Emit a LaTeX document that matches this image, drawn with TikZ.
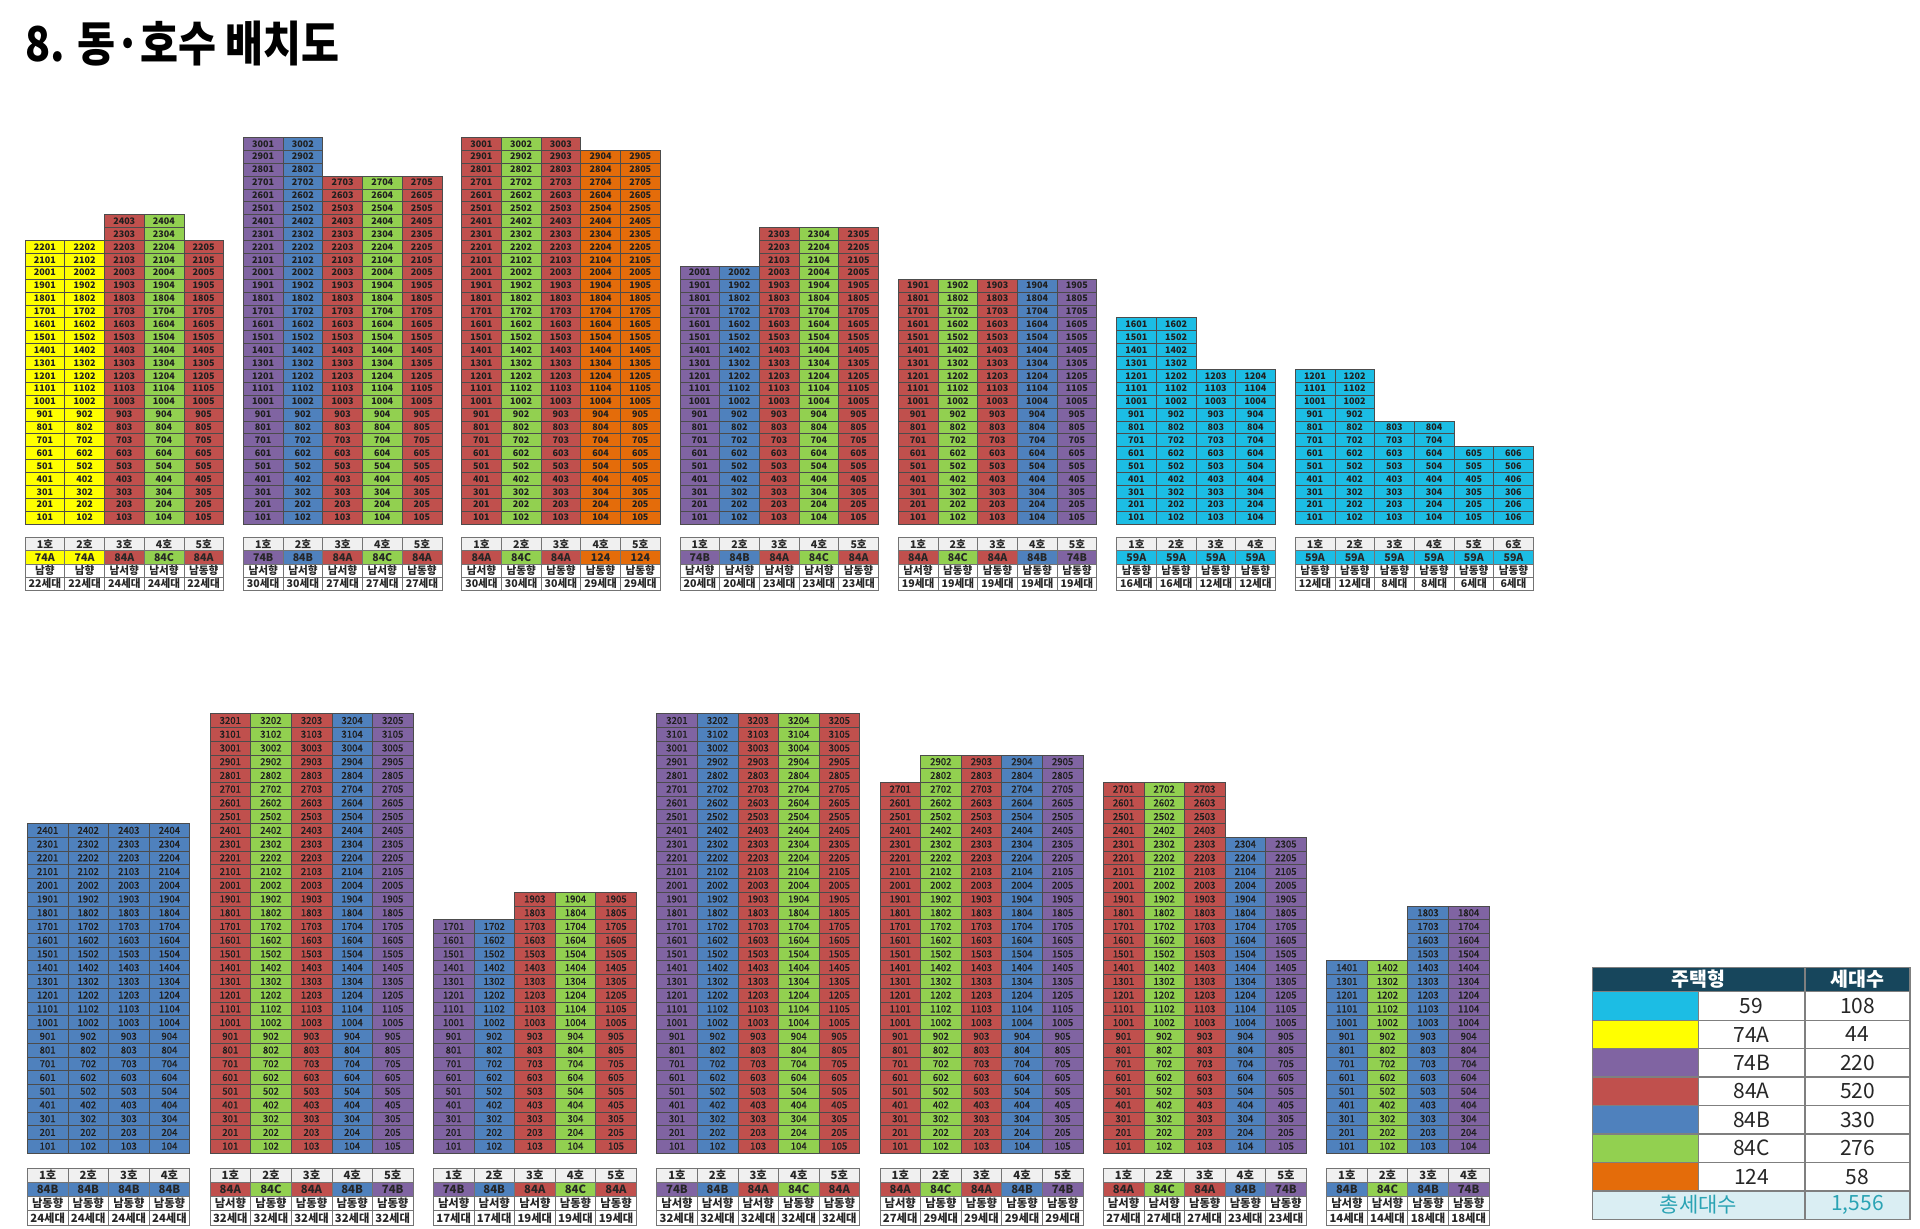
\documentclass[tikz,border=0pt]{standalone}
\usepackage{fontspec}
\usepackage{graphicx}
\setmainfont{Noto Sans CJK KR}
\newfontfamily\krmed[FakeBold=1.2]{Noto Sans CJK KR}
\definecolor{c59A}{HTML}{1CBDE4}
\definecolor{c74A}{HTML}{FFFF00}
\definecolor{c74B}{HTML}{8064A2}
\definecolor{c84A}{HTML}{C0504D}
\definecolor{c84B}{HTML}{4F81BD}
\definecolor{c84C}{HTML}{92D050}
\definecolor{c124}{HTML}{E46C0A}
\definecolor{hdr}{HTML}{17465C}
\definecolor{totbg}{HTML}{DAEEF3}
\definecolor{totfg}{HTML}{2AA3B4}
\definecolor{grid}{HTML}{7F7F7F}
\tikzset{
  unit/.style={draw=black!70, line width=0.6pt, inner sep=0pt, anchor=south west, text=black!88},
  tcell/.style={draw=black!55, line width=0.7pt, inner sep=0pt, anchor=north west, text=black!85},
  legtxt/.style={inner sep=0pt, font=\fontsize{21}{21}\selectfont, text=black!85},
}
% #1 name, #2 x, #3 col width, #4 base y, #5 row h, #6 table top, #7 table row h, #8 cell font, #9 columns
\newcommand\bldg[9]{%
  \foreach \ty/\nf/\ori [count=\cc] in {#9} {%
    \pgfmathsetmacro\xl{#2+(\cc-1)*#3}%
    \foreach \ff in {1,...,\nf} {%
      \pgfmathsetmacro\yb{#4-(\ff-1)*#5}%
      \node[unit, fill=c\ty, minimum width=#3pt, minimum height=#5pt, font=#8] (#1-\ff-\cc) at (\xl,\yb) {\ff0\cc};
    }%
    \node[tcell, fill=black!6, minimum width=#3pt, minimum height=#7pt] (#1-a\cc) at (\xl,#6) {\cc{}호};
    \node[tcell, fill=c\ty, minimum width=#3pt, minimum height=#7pt] (#1-b\cc) at (\xl,#6+#7) {\ty};
    \node[tcell, fill=white, minimum width=#3pt, minimum height=#7pt] (#1-c\cc) at (\xl,#6+2*#7) {\ori};
    \node[tcell, fill=white, minimum width=#3pt, minimum height=#7pt] (#1-d\cc) at (\xl,#6+3*#7) {\nf{}세대};
  }%
}
\begin{document}
\begin{tikzpicture}[x=1pt,y=-1pt]
\useasboundingbox (0,0) rectangle (1920,1229);
\fill[white] (0,0) rectangle (1920,1229);
\node[anchor=base west, inner sep=0pt, font=\bfseries\fontsize{48}{48}\selectfont] (title) at (25,61.5) {\scalebox{0.86}[1]{8. 동·호수 배치도}};

% ---------- top row ----------
\begin{scope}[every node/.append style={font=\bfseries\fontsize{10.6}{10.6}\selectfont}]
\def\cf{\bfseries\fontsize{9}{9}\selectfont}
\bldg{T1}{24.7}{39.7}{524.3}{12.89}{537}{13.3}{\cf}{74A/22/남향,74A/22/남향,84A/24/남서향,84C/24/남서향,84A/22/남동향}
\bldg{T2}{243}{39.7}{524.3}{12.89}{537}{13.3}{\cf}{74B/30/남서향,84B/30/남서향,84A/27/남서향,84C/27/남서향,84A/27/남동향}
\bldg{T3}{461.3}{39.7}{524.3}{12.89}{537}{13.3}{\cf}{84A/30/남서향,84C/30/남동향,84A/30/남동향,124/29/남동향,124/29/남동향}
\bldg{T4}{679.6}{39.7}{524.3}{12.89}{537}{13.3}{\cf}{74B/20/남서향,84B/20/남서향,84A/23/남서향,84C/23/남서향,84A/23/남동향}
\bldg{T5}{897.9}{39.7}{524.3}{12.89}{537}{13.3}{\cf}{84A/19/남서향,84C/19/남동향,84A/19/남동향,84B/19/남동향,74B/19/남동향}
\bldg{T6}{1116.2}{39.7}{524.3}{12.89}{537}{13.3}{\cf}{59A/16/남동향,59A/16/남동향,59A/12/남동향,59A/12/남동향}
\bldg{T7}{1294.8}{39.7}{524.3}{12.89}{537}{13.3}{\cf}{59A/12/남동향,59A/12/남동향,59A/8/남동향,59A/8/남동향,59A/6/남동향,59A/6/남동향}
\end{scope}

% ---------- bottom row ----------
\begin{scope}[every node/.append style={font=\bfseries\fontsize{11.3}{11.3}\selectfont}]
\def\cf{\krmed\fontsize{9.6}{9.6}\selectfont}
\bldg{B1}{27}{40.6}{1153.3}{13.73}{1167.5}{14.3}{\cf}{84B/24/남동향,84B/24/남동향,84B/24/남동향,84B/24/남동향}
\bldg{B2}{209.7}{40.6}{1153.3}{13.73}{1167.5}{14.3}{\cf}{84A/32/남서향,84C/32/남동향,84A/32/남동향,84B/32/남동향,74B/32/남동향}
\bldg{B3}{433}{40.6}{1153.3}{13.73}{1167.5}{14.3}{\cf}{74B/17/남서향,84B/17/남서향,84A/19/남서향,84C/19/남동향,84A/19/남동향}
\bldg{B4}{656.3}{40.6}{1153.3}{13.73}{1167.5}{14.3}{\cf}{74B/32/남서향,84B/32/남서향,84A/32/남서향,84C/32/남동향,84A/32/남동향}
\bldg{B5}{879.6}{40.6}{1153.3}{13.73}{1167.5}{14.3}{\cf}{84A/27/남서향,84C/29/남동향,84A/29/남동향,84B/29/남동향,74B/29/남동향}
\bldg{B6}{1102.9}{40.6}{1153.3}{13.73}{1167.5}{14.3}{\cf}{84A/27/남서향,84C/27/남서향,84A/27/남동향,84B/23/남동향,74B/23/남동향}
\bldg{B7}{1326.2}{40.6}{1153.3}{13.73}{1167.5}{14.3}{\cf}{84B/14/남서향,84C/14/남서향,84B/18/남동향,74B/18/남동향}
\end{scope}

% ---------- legend ----------
\fill[hdr] (1592.3,967.3) rectangle (1910,991.7);
\node[inner sep=0pt, text=white, font=\bfseries\fontsize{19.5}{19.5}\selectfont] (lh1) at (1698.6,979.5) {주택형};
\node[inner sep=0pt, text=white, font=\bfseries\fontsize{19.5}{19.5}\selectfont] (lh2) at (1857.5,979.5) {세대수};
\foreach \ty/\lab/\num [count=\k] in {59A/59/108,74A/74A/44,74B/74B/220,84A/84A/520,84B/84B/330,84C/84C/276,124/124/58} {
  \pgfmathsetmacro\yt{991.7+(\k-1)*28.45}
  \fill[c\ty] (1592.3,\yt) rectangle (1698.3,\yt+28.45);
  \node[legtxt] (lt\k) at (1751.6,\yt+14.2) {\lab};
  \node[legtxt] (ln\k) at (1857.5,\yt+14.2) {\num};
  \draw[grid, line width=1.3pt] (1592.3,\yt) -- (1910,\yt);
  \draw[grid, line width=1.3pt] (1698.3,\yt) -- (1698.3,\yt+28.45);
}
\fill[totbg] (1592.3,1190.85) rectangle (1910,1219.3);
\draw[grid, line width=1.3pt] (1592.3,1190.85) -- (1910,1190.85);
\node[legtxt, text=totfg] (ltot) at (1698.6,1205) {총세대수};
\node[legtxt, text=totfg] (lnum) at (1857.5,1205) {1,556};
\draw[grid, line width=1.3pt] (1805,967.3) -- (1805,1219.3);
\draw[grid, line width=1.6pt] (1592.3,967.3) rectangle (1910,1219.3);
\end{tikzpicture}
\end{document}
